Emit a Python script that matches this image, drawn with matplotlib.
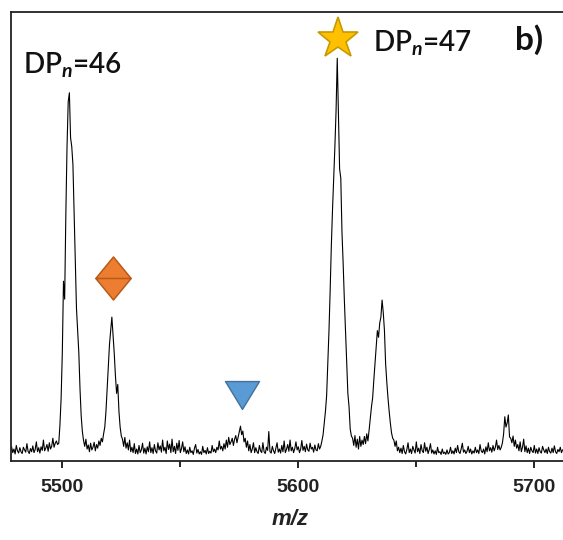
import numpy as np
import matplotlib
matplotlib.use("Agg")
import matplotlib.pyplot as plt
from matplotlib.path import Path

# ---------------- data ----------------
MZ_START = 5478.0
MZ_STEP = 0.5
intensity_rows = [
    [2.0, 3.1, 1.8, 2.6, 1.5, 3.4, 2.2, 1.7, 2.9, 2.0],   # 5478
    [1.6, 3.0, 2.4, 1.9, 3.8, 2.1, 1.6, 2.7, 2.0, 3.3],   # 5483
    [1.8, 2.5, 4.2, 2.0, 2.9, 1.7, 3.1, 2.3, 4.6, 2.2],   # 5488
    [2.8, 3.6, 2.1, 4.0, 2.6, 3.2, 5.0, 3.0, 3.9, 4.4],   # 5493
    [3.6, 3.9, 8.0, 14.0, 24.0, 40.0, 36.0, 55.0, 70.0, 80.0],   # 5498
    [82.0, 72.0, 70.0, 66.0, 55.0, 44.0, 34.0, 29.0, 24.0, 16.0],   # 5503
    [10.0, 6.5, 4.5, 3.2, 4.8, 2.6, 3.5, 2.0, 3.9, 2.4],   # 5508
    [3.0, 4.1, 2.2, 3.6, 2.8, 4.4, 3.4, 5.0, 4.2, 6.0],   # 5513
    [7.5, 11.0, 16.0, 21.0, 26.0, 29.0, 32.0, 28.0, 24.0, 19.0],   # 5518
    [15.0, 17.0, 11.0, 7.5, 5.5, 4.8, 3.2, 5.2, 2.8, 4.0],   # 5523
    [2.4, 4.6, 2.0, 3.0, 1.8, 3.8, 1.6, 2.6, 1.5, 3.4],   # 5528
    [1.8, 2.4, 3.9, 1.7, 2.8, 1.5, 3.1, 2.0, 4.2, 1.8],   # 5533
    [2.9, 1.6, 3.6, 2.2, 1.7, 4.0, 2.4, 3.3, 1.9, 4.6],   # 5538
    [2.2, 3.0, 1.6, 4.4, 2.5, 3.7, 1.8, 4.8, 2.0, 3.2],   # 5543
    [1.6, 3.9, 2.3, 4.5, 1.8, 2.7, 4.2, 2.0, 3.1, 1.6],   # 5548
    [2.4, 1.5, 3.0, 1.8, 2.2, 1.4, 2.8, 3.6, 1.7, 2.5],   # 5553
    [1.5, 2.0, 1.4, 3.2, 1.8, 2.3, 1.5, 2.9, 1.6, 2.1],   # 5558
    [1.7, 3.4, 2.0, 2.6, 1.8, 3.0, 2.4, 4.4, 2.6, 3.2],   # 5563
    [2.2, 3.8, 2.6, 4.6, 3.0, 5.2, 3.6, 4.2, 5.0, 3.4],   # 5568
    [4.8, 5.6, 4.0, 5.2, 6.4, 7.7, 5.8, 6.6, 4.2, 5.0],   # 5573
    [3.0, 4.4, 2.2, 3.6, 1.8, 2.6, 4.0, 1.8, 2.9, 2.0],   # 5578
    [1.6, 3.4, 2.2, 1.8, 4.0, 2.0, 1.6, 3.0, 2.3, 6.5],   # 5583
    [2.0, 1.7, 3.2, 2.2, 1.6, 2.8, 4.0, 1.9, 2.6, 1.7],   # 5588
    [3.4, 2.0, 4.4, 1.8, 2.5, 3.6, 2.1, 4.6, 2.2, 3.0],   # 5593
    [1.8, 2.7, 4.2, 2.4, 3.1, 1.8, 2.6, 4.5, 2.3, 3.2],   # 5598
    [2.0, 3.7, 2.4, 2.1, 3.9, 2.6, 3.0, 1.9, 3.5, 2.4],   # 5603
    [2.2, 3.8, 2.6, 3.2, 4.4, 5.8, 8.4, 11.0, 14.5, 22.0],   # 5608
    [29.0, 38.0, 48.0, 56.0, 63.0, 70.0, 78.0, 89.7, 77.0, 65.0],   # 5613
    [63.0, 51.0, 44.0, 36.0, 29.0, 22.0, 15.0, 12.0, 7.0, 5.5],   # 5618
    [5.0, 3.4, 5.6, 3.0, 4.8, 2.6, 5.4, 3.2, 4.6, 3.6],   # 5623
    [5.4, 3.8, 6.0, 4.4, 6.8, 9.5, 12.0, 14.0, 18.0, 21.6],   # 5628
    [25.0, 29.0, 27.5, 30.7, 32.0, 35.8, 33.0, 29.0, 21.6, 17.5],   # 5633
    [14.0, 11.0, 8.4, 6.2, 5.0, 4.6, 3.2, 4.4, 2.2, 3.0],   # 5638
    [1.8, 2.8, 1.6, 3.4, 2.0, 1.5, 2.5, 4.0, 1.8, 2.6],   # 5643
    [1.6, 3.2, 2.4, 1.7, 4.2, 2.0, 2.8, 1.6, 3.6, 2.2],   # 5648
    [1.8, 4.0, 2.1, 3.0, 1.6, 2.5, 3.8, 1.7, 2.4, 1.5],   # 5653
    [2.2, 1.4, 3.0, 1.8, 2.0, 1.4, 2.6, 1.6, 1.9, 1.4],   # 5658
    [2.4, 1.5, 1.8, 3.0, 1.6, 2.2, 1.5, 2.8, 1.8, 3.4],   # 5663
    [2.0, 1.6, 2.6, 3.9, 1.9, 2.4, 1.6, 2.1, 3.2, 1.8],   # 5668
    [2.6, 1.5, 2.2, 1.7, 3.0, 1.8, 2.4, 1.6, 3.6, 2.2],   # 5673
    [1.8, 2.6, 1.5, 3.1, 2.0, 4.0, 2.2, 2.9, 1.9, 3.4],   # 5678
    [2.2, 3.0, 4.6, 2.5, 3.4, 2.4, 3.0, 4.0, 6.0, 9.8],   # 5683
    [7.5, 8.4, 10.2, 5.3, 5.0, 4.0, 5.5, 3.2, 4.6, 2.8],   # 5688
    [3.6, 2.2, 4.2, 2.0, 3.0, 4.8, 2.0, 3.3, 1.8, 2.8],   # 5693
    [1.6, 3.0, 2.2, 1.8, 3.4, 1.7, 2.6, 1.6, 2.9, 2.0],   # 5698
    [1.7, 3.2, 2.4, 1.8, 2.6, 1.6, 3.0, 2.0, 1.7, 2.8],   # 5703
    [1.8, 3.3, 2.0, 1.6, 2.5, 2.0, 3.0, 1.8, 2.4],        # 5708
]
intensity = np.array([v for row in intensity_rows for v in row])
mz = MZ_START + MZ_STEP * np.arange(len(intensity))

xticks_major = [5500, 5600, 5700]
xticks_minor = [5550, 5650]

# annotation markers (m/z, intensity)
star_pos = (5616.8, 94.0)
diamond_pos = (5521.6, 40.7)
triangle_pos = (5576.0, 14.6)

label_46 = "DP$_{n}$=46"
label_47 = "DP$_{n}$=47"
panel_label = "b)"
xlabel = "m/z"

# ---------------- figure ----------------
plt.rcParams["mathtext.fontset"] = "custom"
plt.rcParams["mathtext.rm"] = "Lato"
plt.rcParams["mathtext.it"] = "Lato:italic:bold"
plt.rcParams["mathtext.bf"] = "Lato:bold"

fig = plt.figure(figsize=(5.63, 5.40), dpi=100)
ax = fig.add_axes([11 / 563, 1 - 460.7 / 540, 1 - 11 / 563, (460.7 - 12) / 540])

ax.plot(mz, intensity, color="black", lw=0.8)

ax.set_xlim(5478.26, 5712.16)
ax.set_ylim(0, 100)

for s in ["left", "top", "bottom"]:
    ax.spines[s].set_linewidth(1.3)
    ax.spines[s].set_color("#222222")
ax.spines["right"].set_visible(False)

ax.set_yticks([])
ax.set_xticks(xticks_major)
ax.set_xticks(xticks_minor, minor=True)
ax.tick_params(axis="x", which="major", direction="out", length=5, width=1.2,
               pad=8, labelsize=14)
ax.tick_params(axis="x", which="minor", direction="out", length=4, width=1.2)
for lab in ax.get_xticklabels():
    lab.set_fontfamily("Liberation Sans")
    lab.set_fontweight("bold")
    lab.set_color("#222222")

ax.set_xlabel(xlabel, fontsize=16, fontweight="bold", fontstyle="italic",
              family="Liberation Sans", color="#222222")
ax.xaxis.set_label_coords((290 - 11) / (563 - 11), -(509 - 460.7) / 448.7)

# star marker
ax.plot([star_pos[0]], [star_pos[1]], marker="*", ms=31, color="#FFC000",
        mec="#C79A00", mew=1.2, clip_on=False, zorder=5)

# diamond marker with middle line
diamond = Path([(0, 1), (0.82, 0), (0, -1), (-0.82, 0), (0, 1),
                (-0.82, 0), (0.82, 0)],
               [Path.MOVETO, Path.LINETO, Path.LINETO, Path.LINETO, Path.CLOSEPOLY,
                Path.MOVETO, Path.LINETO])
ax.plot([diamond_pos[0]], [diamond_pos[1]], marker=diamond, ms=31, color="#ED7D31",
        mec="#B85A1A", mew=1.1, zorder=5)

# triangle marker
tri = Path([(-1, 0.82), (1, 0.82), (0, -0.82), (-1, 0.82)],
           [Path.MOVETO, Path.LINETO, Path.LINETO, Path.CLOSEPOLY])
ax.plot([triangle_pos[0]], [triangle_pos[1]], marker=tri, ms=24.5, color="#5B9BD5",
        mec="#41719C", mew=1.0, zorder=5)

# text labels (figure pixel coordinates)
def fx(px):
    return px / 563

def fy(py):
    return 1 - py / 540

fig.text(fx(23), fy(74), label_46, fontsize=20, family="Lato", fontweight="semibold",
         ha="left", va="baseline", color="#111111")
fig.text(fx(373), fy(52), label_47, fontsize=20, family="Lato", fontweight="semibold",
         ha="left", va="baseline", color="#111111")
fig.text(fx(515), fy(50), panel_label, fontsize=24, family="Lato",
         fontweight="bold", ha="left", va="baseline", color="#111111")

fig.savefig("out.png", dpi=100)
